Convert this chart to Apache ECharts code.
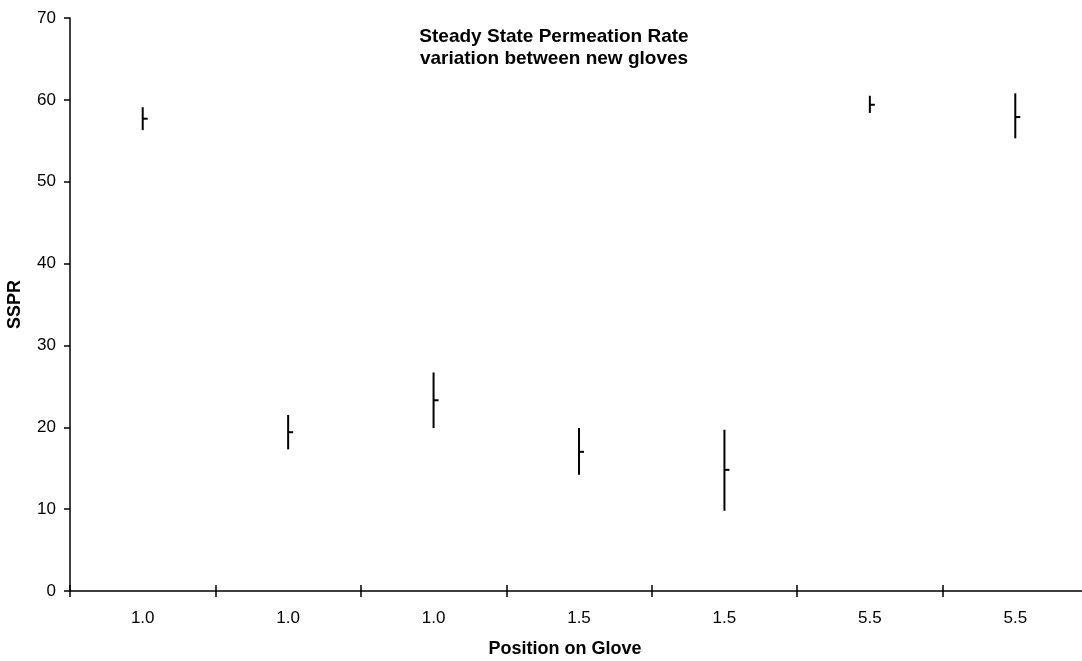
<!DOCTYPE html>
<html>
<head>
<meta charset="utf-8">
<title>Steady State Permeation Rate</title>
<script src="https://cdn.jsdelivr.net/npm/echarts@6/dist/echarts.min.js"></script>
<style>
  html, body { margin: 0; padding: 0; background: #fff; }
  #chart { width: 1082px; height: 661px; }
</style>
</head>
<body>
<div id="chart"></div>
<script>
// Position on glove for each tested glove
const categories = ['1.0', '1.0', '1.0', '1.5', '1.5', '5.5', '5.5'];
// Steady state permeation rate: range and mean per glove
const highValues = [59.1, 21.5, 26.7, 19.9, 19.7, 60.5, 60.8];
const lowValues  = [56.3, 17.3, 19.9, 14.2, 9.8, 58.4, 55.3];
const meanValues = [57.7, 19.4, 23.3, 17.0, 14.8, 59.4, 57.9];
const yTicks = [0, 10, 20, 30, 40, 50, 60, 70];

const FONT = '"Liberation Sans", Arial, sans-serif';

const seriesData = categories.map((c, i) => [i, lowValues[i], highValues[i], meanValues[i]]);

// High-low bar with a short mean tick to the right
function renderHighLow(params, api) {
  const x = api.value(0);
  const low = api.coord([x, api.value(1)]);
  const high = api.coord([x, api.value(2)]);
  const mean = api.coord([x, api.value(3)]);
  const style = { stroke: '#000', lineWidth: 2 };
  return {
    type: 'group',
    children: [
      { type: 'line', shape: { x1: high[0], y1: high[1], x2: low[0], y2: low[1] }, style: style },
      { type: 'line', shape: { x1: mean[0], y1: mean[1], x2: mean[0] + 5, y2: mean[1] }, style: style }
    ]
  };
}

const chart = echarts.init(document.getElementById('chart'));
chart.setOption({
  animation: false,
  backgroundColor: '#fff',
  grid: { left: 70, right: -6, top: 18, bottom: 70, outerBoundsMode: 'none', containLabel: false },
  graphic: [
    {
      type: 'text', x: 554, y: 26,
      style: {
        text: 'Steady State Permeation Rate\nvariation between new gloves',
        align: 'center', verticalAlign: 'top', textAlign: 'center', textVerticalAlign: 'top',
        fill: '#000', font: 'bold 19px ' + FONT, lineHeight: 22
      }
    },
    {
      type: 'text', x: 565, y: 640,
      style: {
        text: 'Position on Glove',
        align: 'center', verticalAlign: 'top', textAlign: 'center', textVerticalAlign: 'top',
        fill: '#000', font: 'bold 18px ' + FONT
      }
    }
  ],
  xAxis: [
    {
      type: 'category', data: categories, position: 'bottom',
      axisLine: { lineStyle: { color: '#000', width: 1.5 } },
      axisTick: { show: true, length: 6, lineStyle: { color: '#000', width: 1.5 } },
      axisLabel: { color: '#000', fontSize: 17, fontFamily: FONT, margin: 19 },
      splitLine: { show: false }
    },
    {
      type: 'category', data: categories, position: 'bottom', offset: 0,
      axisLine: { show: false },
      axisTick: { show: true, inside: true, length: 6, lineStyle: { color: '#000', width: 1.5 } },
      axisLabel: { show: false },
      splitLine: { show: false }
    }
  ],
  yAxis: {
    type: 'value', min: yTicks[0], max: yTicks[yTicks.length - 1], interval: 10,
    name: 'SSPR', nameLocation: 'middle', nameGap: 46,
    nameTextStyle: { color: '#000', fontSize: 18, fontWeight: 'bold', fontFamily: FONT },
    axisLine: { show: true, lineStyle: { color: '#000', width: 1.5 } },
    axisTick: { show: true, length: 6, lineStyle: { color: '#000', width: 1.5 } },
    axisLabel: { color: '#000', fontSize: 17, fontFamily: FONT, margin: 14 },
    splitLine: { show: false }
  },
  series: [{
    type: 'custom',
    xAxisIndex: 0,
    renderItem: renderHighLow,
    encode: { x: 0, y: [1, 2, 3] },
    data: seriesData
  }]
});
</script>
</body>
</html>
